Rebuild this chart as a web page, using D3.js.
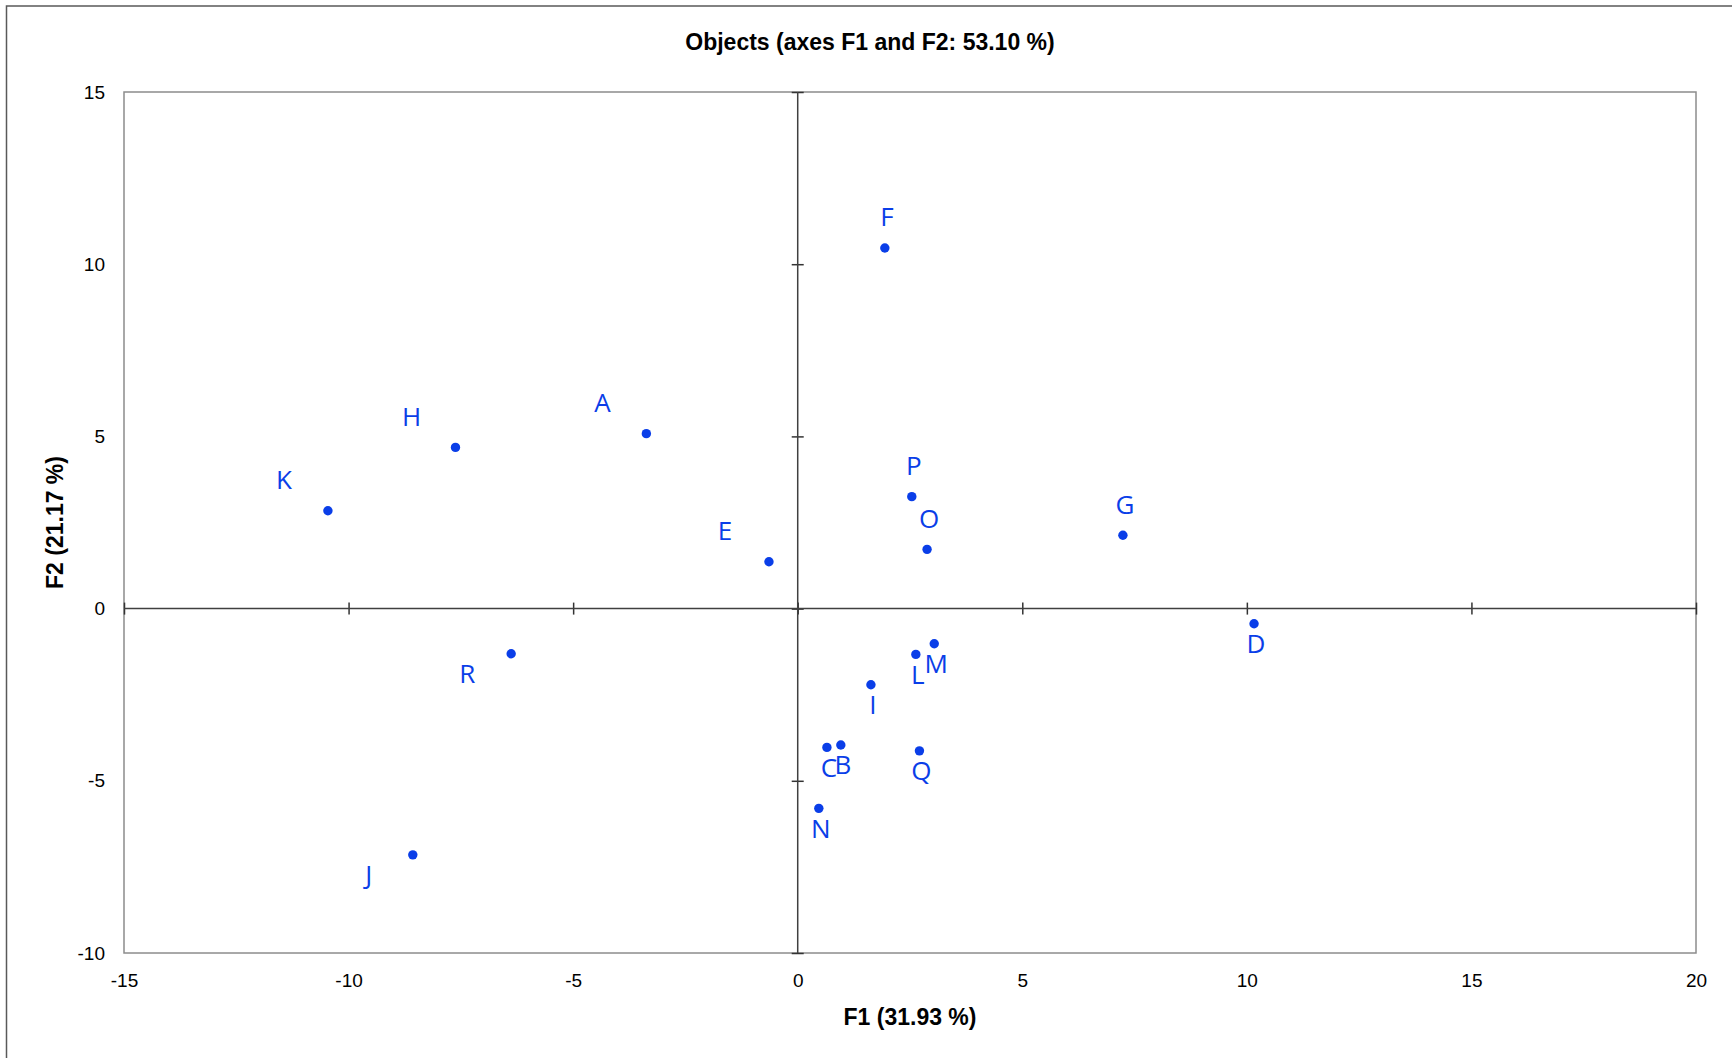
<!DOCTYPE html>
<meta charset="utf-8">
<script src="https://d3js.org/d3.v7.min.js"></script>
<style>
  body { margin: 0; background: #fff; }
  text { font-family: "Liberation Sans", Arial, sans-serif; }
</style>
<div id="chart"></div>
<script>
    const names = ["A","B","C","D","E","F","G","H","I","J","K","L","M","N","O","P","Q","R"];
    const f1 = [-3.37, 0.96, 0.65, 10.16, -0.64, 1.94, 7.24, -7.62, 1.63, -8.57, -10.46, 2.63, 3.04, 0.47, 2.88, 2.54, 2.71, -6.38];
    const f2 = [5.08, -3.96, -4.03, -0.44, 1.36, 10.47, 2.13, 4.68, -2.21, -7.15, 2.84, -1.33, -1.02, -5.80, 1.72, 3.25, -4.13, -1.31];
    const xTicks = [-15, -10, -5, 0, 5, 10, 15, 20];
    const yTicks = [-10, -5, 0, 5, 10, 15];

    const W = 1732, H = 1058;
    const margin = {top: 92, right: 36, bottom: 105, left: 124};
    const width = W - margin.left - margin.right,
        height = H - margin.top - margin.bottom;
    const blue = "#0a3ee8";

    const root = d3.select("#chart").append("svg")
        .attr("width", W).attr("height", H);

    // outer chart border
    root.append("rect")
        .attr("x", 6.5).attr("y", 6)
        .attr("width", W + 20).attr("height", H + 20)
        .attr("fill", "none").attr("stroke", "#595959").attr("stroke-width", 1.5);

    // title
    root.append("text")
        .attr("x", 870).attr("y", 50)
        .attr("text-anchor", "middle")
        .style("font-size", "23px").style("font-weight", "bold")
        .text("Objects (axes F1 and F2: 53.10 %)");

    const svg = root.append("g")
        .attr("transform", `translate(${margin.left}, ${margin.top})`);

    const x = d3.scaleLinear().domain([-15, 20]).range([0, width]);
    const y = d3.scaleLinear().domain([-10, 15]).range([height, 0]);

    // plot frame
    svg.append("rect")
        .attr("width", width).attr("height", height)
        .attr("fill", "none").attr("stroke", "#8c8c8c").attr("stroke-width", 1.5);

    // tick labels on the frame (plain hyphen minus, as in the original)
    const fmt = d => String(d);
    const xAx = svg.append("g")
        .attr("transform", `translate(0, ${height})`)
        .call(d3.axisBottom(x).tickValues(xTicks).tickSize(0).tickPadding(21).tickFormat(fmt));
    const yAx = svg.append("g")
        .call(d3.axisLeft(y).tickValues(yTicks).tickSize(0).tickPadding(19).tickFormat(fmt));
    [xAx, yAx].forEach(g => {
        g.select(".domain").remove();
        g.selectAll("text").style("font-size", "19px").style("font-family", "Liberation Sans, Arial, sans-serif").attr("fill", "#000");
    });

    // zero lines with crossing ticks
    const x0 = svg.append("g")
        .attr("transform", `translate(0, ${y(0) - 6})`)
        .call(d3.axisBottom(x).tickValues(xTicks).tickSize(12).tickFormat(""));
    const y0 = svg.append("g")
        .attr("transform", `translate(${x(0) + 6}, 0)`)
        .call(d3.axisLeft(y).tickValues(yTicks).tickSize(12).tickFormat(""));
    [x0, y0].forEach(g => {
        g.select(".domain").remove();
        g.selectAll("line").attr("stroke", "#333").attr("stroke-width", 1.5);
    });
    svg.append("line")
        .attr("x1", 0).attr("x2", width).attr("y1", y(0)).attr("y2", y(0))
        .attr("stroke", "#404040").attr("stroke-width", 1.5);
    svg.append("line")
        .attr("x1", x(0)).attr("x2", x(0)).attr("y1", 0).attr("y2", height)
        .attr("stroke", "#404040").attr("stroke-width", 1.5);

    // axis titles
    root.append("text")
        .attr("x", margin.left + width / 2).attr("y", 1025)
        .attr("text-anchor", "middle")
        .style("font-size", "23px").style("font-weight", "bold")
        .text("F1 (31.93 %)");
    root.append("text")
        .attr("transform", `translate(63, ${margin.top + height / 2}) rotate(-90)`)
        .attr("text-anchor", "middle")
        .style("font-size", "23px").style("font-weight", "bold")
        .text("F2 (21.17 %)");

    // points
    const data = names.map((n, i) => ({name: n, f1: f1[i], f2: f2[i]}));

    svg.append("g").selectAll("circle")
        .data(data)
        .join("circle")
        .attr("cx", d => x(d.f1))
        .attr("cy", d => y(d.f2))
        .attr("r", 4.7)
        .attr("fill", blue);

    // labels: left of point when F1<0, above when F2>0, below otherwise
    svg.append("g").selectAll("text")
        .data(data)
        .join("text")
        .attr("x", d => x(d.f1) + (d.f1 < 0 ? -44 : 2))
        .attr("y", d => y(d.f2) + (d.f2 > 0 ? -31 : 20))
        .attr("dy", "0.36em")
        .attr("text-anchor", "middle")
        .attr("fill", blue)
        .style("font-family", "'Open Sans', sans-serif")
        .style("font-size", "26px")
        .text(d => d.name);
</script>
